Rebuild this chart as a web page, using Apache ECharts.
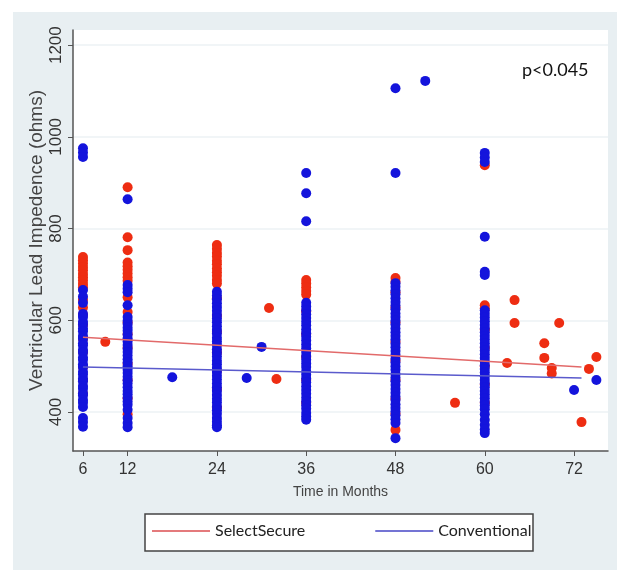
<!DOCTYPE html>
<html>
<head>
<meta charset="utf-8">
<title>Ventricular lead impedance over time</title>
<script src="https://cdn.jsdelivr.net/npm/echarts@6.0.0/dist/echarts.min.js"></script>
<style>
  html, body { margin: 0; padding: 0; background: #fff; }
  #chart { width: 620px; height: 572px; }
</style>
</head>
<body>
<div id="chart"></div>
<script>
// tick labels
const xTicks = [6, 12, 24, 36, 48, 60, 72];
const yTicks = [400, 600, 800, 1000, 1200];

// SelectSecure (red) impedance readings at each follow-up visit
const ss6  = [738, 731, 724, 716, 709, 701, 694, 687, 679, 672, 645, 628, 612, 590, 560, 531, 498, 470, 440];
const ss12 = [890, 781, 753, 726, 718, 710, 702, 694, 686, 650, 618, 595, 570, 540, 505, 470, 430, 395];
const ss24 = [764, 756, 747, 739, 730, 722, 713, 705, 697, 688, 680, 648, 610, 575, 530, 490, 450, 410];
const ss36 = [688, 680, 672, 664, 656, 620, 570, 520, 470, 420];
const ss48 = [692, 684, 661, 628, 595, 553, 512, 470, 429, 396, 361];
const ss60 = [938, 633, 626, 580, 540, 500, 460, 420];
// off-schedule SelectSecure readings [month, ohms]
const ssOther = [[9, 553], [31, 627], [32, 472], [56, 420], [63, 507], [64, 644], [64, 594],
  [68, 550], [68, 518], [69, 496], [69, 484], [70, 594], [73, 378], [74, 494], [75, 520]];

// Conventional (blue) impedance readings
const cv6  = [975, 966, 956, 666, 652, 638, 614, 607, 597, 591, 582, 576, 566, 560, 550, 545, 535, 529,
  519, 514, 504, 498, 488, 482, 473, 467, 457, 451, 441, 436, 426, 420, 411, 387, 378, 368];
const cv12 = [864, 677, 669, 661, 633, 607, 599, 592, 584, 577, 569, 561, 554, 546, 538, 531, 523, 515,
  508, 500, 492, 485, 477, 469, 462, 454, 446, 439, 431, 423, 416, 405, 387, 376, 367];
const cv24 = [662, 654, 646, 637, 629, 621, 612, 604, 596, 587, 579, 571, 562, 554, 546, 537, 529, 521,
  512, 504, 496, 487, 479, 471, 462, 454, 446, 437, 429, 421, 412, 404, 396, 387, 379, 371, 367];
const cv36 = [921, 877, 816, 638, 630, 622, 613, 605, 597, 589, 580, 572, 564, 556, 547, 539, 531, 522,
  514, 506, 498, 489, 481, 473, 465, 456, 448, 440, 431, 423, 415, 407, 398, 390, 383];
const cv48 = [1106, 921, 681, 673, 665, 657, 648, 640, 632, 624, 615, 607, 599, 591, 582, 574, 566, 558,
  549, 541, 533, 525, 516, 508, 500, 492, 483, 475, 467, 459, 450, 442, 434, 426, 417, 409, 401, 393, 384, 376, 343];
const cv60 = [965, 955, 945, 782, 706, 699, 622, 614, 606, 598, 590, 582, 574, 566, 558, 550, 542, 534,
  526, 518, 510, 502, 494, 486, 478, 470, 462, 454, 446, 438, 430, 422, 414, 406, 395, 383, 372, 362, 354];
const cvOther = [[18, 476], [28, 474], [30, 542], [52, 1122], [72, 448], [75, 470]];

// linear fits (end points)
const ssFit = [[6, 563], [73, 498]];
const cvFit = [[6, 498], [73, 474]];

function atMonth(month, values) {
  return values.map(v => [month, v]);
}

const ssPoints = [].concat(
  atMonth(6, ss6), atMonth(12, ss12), atMonth(24, ss24),
  atMonth(36, ss36), atMonth(48, ss48), atMonth(60, ss60), ssOther);
const cvPoints = [].concat(
  atMonth(6, cv6), atMonth(12, cv12), atMonth(24, cv24),
  atMonth(36, cv36), atMonth(48, cv48), atMonth(60, cv60), cvOther);

const font = '"Liberation Sans", sans-serif';
const chart = echarts.init(document.getElementById('chart'));

chart.setOption({
  animation: false,
  backgroundColor: '#fff',
  graphic: [
    { type: 'rect', z: -10, silent: true,
      shape: { x: 13, y: 12, width: 604, height: 558 },
      style: { fill: '#e8eff2' } },
    { type: 'rect', z: 5, silent: true,
      shape: { x: 145, y: 514, width: 388, height: 37 },
      style: { fill: '#fff', stroke: '#444', lineWidth: 1.5 } },
    { type: 'text', z: 5, left: 522, top: 61,
      style: { text: 'p<0.045', fontSize: 18, fontFamily: 'Lato, sans-serif', fill: '#111' } }
  ],
  grid: {
    left: 73, right: 12, top: 30, bottom: 121,
    show: true, backgroundColor: '#fff', borderWidth: 0
  },
  legend: {
    left: 152, top: 523, padding: 0, z: 10,
    icon: 'rect', itemWidth: 58, itemHeight: 2, itemGap: 70,
    data: ['SelectSecure', 'Conventional'],
    textStyle: { fontSize: 16, color: '#222', fontFamily: 'Lato, sans-serif' }
  },
  xAxis: {
    type: 'value', min: 4.66, max: 76.56,
    name: 'Time in Months', nameLocation: 'middle', nameGap: 34, nameMoveOverlap: false,
    nameTextStyle: { fontSize: 14, color: '#444', fontFamily: font },
    axisLine: { show: true, lineStyle: { color: '#555', width: 1.5 } },
    axisTick: { show: true, length: 5, customValues: xTicks, lineStyle: { color: '#555' } },
    axisLabel: { customValues: xTicks, fontSize: 16, color: '#333', margin: 11, fontFamily: font },
    splitLine: { show: false }
  },
  yAxis: {
    type: 'value', min: 315, max: 1233,
    name: 'Ventricular Lead Impedence (ohms)', nameLocation: 'middle', nameGap: 27, nameMoveOverlap: false,
    nameTextStyle: { fontSize: 19, color: '#444', fontFamily: font },
    axisLine: { show: true, lineStyle: { color: '#555', width: 1.5 } },
    axisTick: { show: true, length: 5, customValues: yTicks, lineStyle: { color: '#555' } },
    axisLabel: { customValues: yTicks, rotate: 90, fontSize: 17, color: '#333', margin: 8,
      fontFamily: font, formatter: v => String(v) },
    splitLine: { show: true, lineStyle: { color: '#edf2f4', width: 1.5 } }
  },
  series: [
    { name: 'SelectSecure points', type: 'scatter', data: ssPoints,
      symbolSize: 10, itemStyle: { color: '#ee2d12', opacity: 1 } },
    { name: 'Conventional points', type: 'scatter', data: cvPoints,
      symbolSize: 10, itemStyle: { color: '#1414dc', opacity: 1 } },
    { name: 'SelectSecure', type: 'line', data: ssFit, symbol: 'none',
      itemStyle: { color: '#e47a7c' }, lineStyle: { color: '#e26a6a', width: 1.5 } },
    { name: 'Conventional', type: 'line', data: cvFit, symbol: 'none',
      itemStyle: { color: '#7474d4' }, lineStyle: { color: '#5a5acc', width: 1.5 } }
  ]
});
</script>
</body>
</html>
